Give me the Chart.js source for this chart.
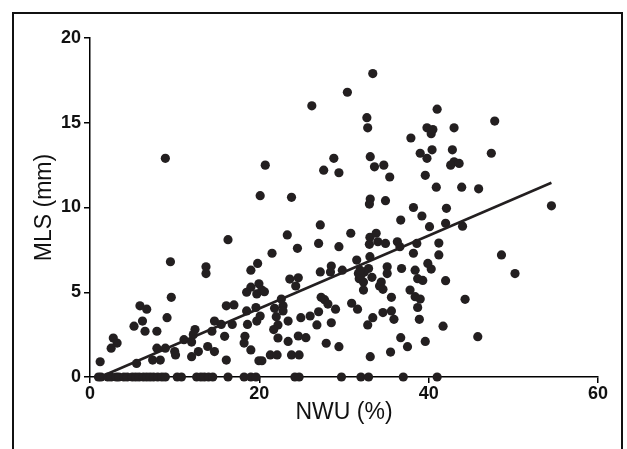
<!DOCTYPE html>
<html>
<head>
<meta charset="utf-8">
<script src="https://cdn.jsdelivr.net/npm/chart.js@4.4.1/dist/chart.umd.min.js"></script>
<style>
html,body{margin:0;padding:0;background:#fff;}
#wrap{position:relative;width:627px;height:449px;}
</style>
</head>
<body>
<div id="wrap"><canvas id="c" width="627" height="449"></canvas></div>
<script>
// NWU (%) values of the scatter points
const nwu = [
 8.9,20.1,33.4,30.4,26.2,32.7,32.8,37.9,39.8,40.3,40.5,40.4,39.0,39.8,39.6,20.7,28.8,27.6,29.4,33.1,33.6,34.7,35.4,23.8,33.1,33.0,34.9,38.2,
 41.0,47.8,43.0,42.8,47.4,43.0,42.6,43.6,40.9,43.9,45.9,42.1,54.5,
 16.3,9.5,13.7,13.7,19.8,19.0,9.6,19.0,19.95,18.5,19.7,5.9,6.7,16.1,17.0,18.5,19.6,9.1,6.2,5.2,6.5,7.9,14.7,15.5,16.8,18.6,15.9,18.3,18.2,19.0,
 12.4,12.2,14.4,11.1,12.0,13.9,14.7,12.8,12.0,7.9,8.9,10.0,10.1,7.4,8.3,5.5,2.5,2.75,3.2,1.2,16.1,19.95,
 39.2,36.7,40.1,27.2,23.3,30.8,33.06,33.8,33.0,34.0,34.9,36.3,36.6,38.6,38.2,27.0,29.4,24.5,21.5,33.06,31.5,39.9,28.5,28.4,27.2,29.8,32.9,31.7,
 31.8,32.3,32.4,33.3,32.3,35.1,35.1,34.4,34.2,34.6,36.8,38.4,38.7,39.3,37.8,38.4,39.0,38.7,35.6,35.6,34.6,35.9,38.9,23.6,24.6,24.3,20.3,20.6,
 21.8,22.8,22.6,22.8,22.0,20.1,19.7,22.2,21.7,23.4,24.9,26.0,27.0,27.3,27.7,28.1,29.0,26.8,28.5,30.9,31.6,33.4,32.8,24.6,25.5,22.2,23.4,27.9,
 29.4,36.7,37.5,39.6,35.5,33.1,20.3,21.3,22.1,23.8,24.7,32.0,31.9,
 42.0,44.0,41.2,41.2,48.6,50.2,40.3,42.0,44.3,41.7,45.8,
 1.0,1.3,2.1,2.5,3.1,3.4,4.0,4.4,5.0,5.4,5.8,6.3,6.7,7.1,7.5,8.0,8.5,8.9,10.3,10.8,12.6,13.1,13.5,14.0,14.5,16.3,18.2,19.0,19.6,24.2,24.7,29.7,32.0,32.9,37.0,41.0
];
// MLS (mm) values, same order
const mls = [
 12.9,10.7,17.9,16.8,16.0,15.3,14.7,14.1,14.7,14.35,14.6,13.4,13.2,12.9,11.9,12.5,12.9,12.2,12.05,13.0,12.4,12.5,11.8,10.6,10.5,10.2,10.4,10.0,
 15.8,15.1,14.7,13.4,13.2,12.7,12.5,12.6,11.2,11.2,11.1,9.95,10.1,
 8.1,6.8,6.5,6.1,6.7,6.3,4.7,5.3,5.5,5.0,4.9,4.2,4.0,4.2,4.25,3.9,4.1,3.5,3.3,3.0,2.7,2.7,3.3,3.1,3.1,3.1,2.4,2.4,2.0,1.6,
 2.8,2.5,2.7,2.2,2.06,1.8,1.5,1.5,1.2,1.7,1.7,1.5,1.3,1.0,1.0,0.8,1.7,2.3,2.0,0.9,1.0,0.96,
 9.5,9.26,8.87,8.97,8.38,8.48,8.24,8.48,7.83,7.98,7.88,7.98,7.69,7.88,7.3,7.88,7.69,7.59,7.3,7.1,6.9,6.7,6.55,6.2,6.2,6.3,6.4,6.1,
 5.8,5.6,6.2,5.88,5.13,6.5,6.1,5.6,5.37,5.17,6.4,6.3,5.8,5.7,5.13,4.74,4.6,4.1,4.7,3.9,3.8,3.4,3.4,5.78,5.85,5.37,5.13,5.03,
 4.05,4.2,4.6,3.9,3.56,3.6,3.3,3.07,2.8,3.3,3.5,3.6,3.85,4.7,4.56,4.3,4.0,3.07,3.2,4.35,4.0,3.5,3.07,2.42,2.32,2.3,2.1,1.99,
 1.79,2.32,1.79,2.1,1.47,1.2,0.96,1.3,1.3,1.3,1.3,6.0,6.3,
 9.07,8.9,7.9,7.2,7.2,6.1,6.37,5.68,4.58,3.0,2.38,
 0,0,0,0,0,0,0,0,0,0,0,0,0,0,0,0,0,0,0,0,0,0,0,0,0,0,0,0,0,0,0,0,0,0,0,0
];
// regression line end points
const fitX = [1.2, 54.5];
const fitY = [0, 11.46];
const xTicks = [0, 20, 40, 60];
const yTicks = [0, 5, 10, 15, 20];

const ink = '#231f20';
const points = nwu.map((v, i) => ({x: v, y: mls[i]}));
const fit = fitX.map((v, i) => ({x: v, y: fitY[i]}));

const framePlugin = {
  id: 'frame',
  beforeDraw(chart) {
    const ctx = chart.ctx;
    ctx.save();
    ctx.fillStyle = '#fff';
    ctx.fillRect(0, 0, chart.width, chart.height);
    ctx.strokeStyle = '#111';
    ctx.lineWidth = 2;
    ctx.strokeRect(13, 13, 609, 480);
    ctx.restore();
  }
};

new Chart(document.getElementById('c'), {
  type: 'scatter',
  data: {
    datasets: [
      {
        data: points,
        pointRadius: 4.6,
        pointHoverRadius: 4.6,
        backgroundColor: ink,
        borderWidth: 0,
        clip: false,
        order: 2
      },
      {
        type: 'line',
        data: fit,
        borderColor: ink,
        borderWidth: 2.5,
        pointRadius: 0,
        fill: false,
        clip: false,
        order: 1
      }
    ]
  },
  options: {
    responsive: false,
    animation: false,
    events: [],
    layout: {padding: {left: 0, top: 38, right: 29, bottom: 0}},
    plugins: {legend: {display: false}, tooltip: {enabled: false}},
    scales: {
      x: {
        type: 'linear',
        min: 0, max: 60,
        afterBuildTicks(s) { s.ticks = xTicks.map(v => ({value: v})); },
        afterFit(s) { s.height = 72; },
        grid: {display: true, drawOnChartArea: false, drawTicks: true, tickLength: 6, color: '#000', lineWidth: 1.5},
        border: {display: true, color: '#000', width: 1.5},
        ticks: {color: '#111', padding: 0, maxRotation: 0, font: {family: 'Liberation Sans, Arial, sans-serif', size: 18, weight: 'bold'}},
        title: {display: true, text: 'NWU (%)', color: '#111', padding: {top: 0, bottom: 23}, font: {family: 'Liberation Sans, Arial, sans-serif', size: 23}}
      },
      y: {
        type: 'linear',
        min: 0, max: 20,
        afterBuildTicks(s) { s.ticks = yTicks.map(v => ({value: v})); },
        afterFit(s) { s.width = 90; },
        grid: {display: true, drawOnChartArea: false, drawTicks: true, tickLength: 6, color: '#000', lineWidth: 1.5},
        border: {display: true, color: '#000', width: 1.5},
        ticks: {color: '#111', padding: 3, font: {family: 'Liberation Sans, Arial, sans-serif', size: 18, weight: 'bold'}},
        title: {display: true, text: 'MLS (mm)', color: '#111', padding: {top: 31, bottom: 0}, font: {family: 'Liberation Sans, Arial, sans-serif', size: 23}}
      }
    }
  },
  plugins: [framePlugin]
});
</script>
</body>
</html>
